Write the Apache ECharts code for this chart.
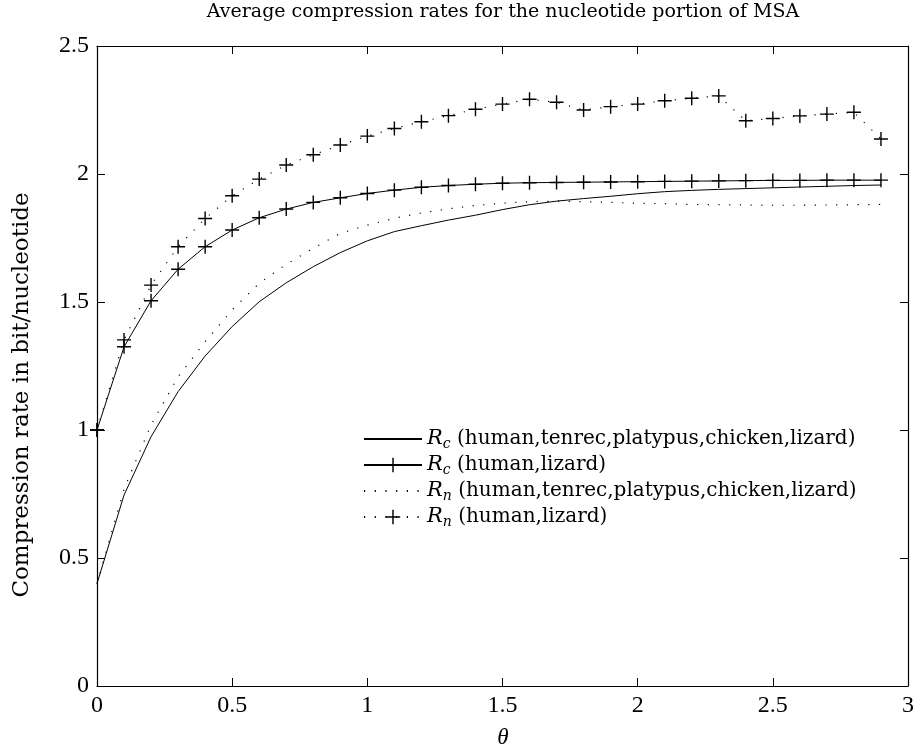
<!DOCTYPE html>
<html>
<head>
<meta charset="utf-8">
<title>Average compression rates</title>
<script src="https://cdn.jsdelivr.net/npm/echarts@6/dist/echarts.min.js"></script>
<style>
  html, body { margin: 0; padding: 0; background: #fff; }
  #chart { width: 917px; height: 753px; }
</style>
</head>
<body>
<div id="chart"></div>
<script>
// theta values (x axis)
const thetaValues = [0, 0.1, 0.2, 0.3, 0.4, 0.5, 0.6, 0.7, 0.8, 0.9,
                     1.0, 1.1, 1.2, 1.3, 1.4, 1.5, 1.6, 1.7, 1.8, 1.9,
                     2.0, 2.1, 2.2, 2.3, 2.4, 2.5, 2.6, 2.7, 2.8, 2.9];

// Rc, 5 species (solid)
const rcAll = [0.40, 0.746, 0.974, 1.15, 1.289, 1.404, 1.501, 1.575, 1.638, 1.693,
               1.739, 1.775, 1.798, 1.82, 1.839, 1.861, 1.880, 1.894, 1.904, 1.913,
               1.923, 1.931, 1.936, 1.940, 1.943, 1.946, 1.949, 1.952, 1.955, 1.957];
// Rc, human + lizard (solid with +)
const rcPair = [1.00, 1.325, 1.505, 1.628, 1.716, 1.781, 1.829, 1.863, 1.889, 1.907,
                1.924, 1.937, 1.948, 1.955, 1.960, 1.964, 1.966, 1.967, 1.968, 1.969,
                1.970, 1.971, 1.972, 1.973, 1.974, 1.975, 1.975, 1.976, 1.976, 1.976];
// Rn, 5 species (dotted)
const rnAll = [0.40, 0.77, 1.02, 1.208, 1.345, 1.469, 1.573, 1.647, 1.71, 1.768,
               1.80, 1.827, 1.848, 1.864, 1.877, 1.886, 1.892, 1.894, 1.892, 1.889,
               1.886, 1.884, 1.881, 1.880, 1.879, 1.878, 1.878, 1.879, 1.880, 1.881];
// Rn, human + lizard (dotted with +)
const rnPair = [1.00, 1.352, 1.566, 1.716, 1.826, 1.915, 1.98, 2.035, 2.075, 2.113,
                2.148, 2.178, 2.204, 2.228, 2.253, 2.273, 2.292, 2.28, 2.25, 2.263,
                2.273, 2.286, 2.296, 2.305, 2.208, 2.217, 2.227, 2.234, 2.241, 2.137];

const seriesNames = [
  'R_c (human,tenrec,platypus,chicken,lizard)',
  'R_c (human,lizard)',
  'R_n (human,tenrec,platypus,chicken,lizard)',
  'R_n (human,lizard)'
];

const SERIF = '"Liberation Serif", serif';
const WIDE = '"DejaVu Serif", "Liberation Serif", serif';
const PLUS = 'path://M4.5,0H5.5V4.5H10V5.5H5.5V10H4.5V5.5H0V4.5H4.5Z';
const DOTS = [1.2, 9.5];

const chart = echarts.init(document.getElementById('chart'));

const pairs = arr => thetaValues.map((t, i) => [t, arr[i]]);

function lineSeries(name, values, dotted, marker) {
  return {
    name: name,
    type: 'line',
    data: pairs(values),
    symbol: marker ? PLUS : 'none',
    symbolSize: 14,
    showAllSymbol: true,
    itemStyle: { color: '#000' },
    lineStyle: { color: '#000', width: dotted ? 1.2 : 1, type: dotted ? DOTS : 'solid' },
    emphasis: { disabled: true },
    z: marker ? 3 : 2
  };
}

const axisCommon = {
  type: 'value',
  axisLine: { show: true, onZero: false, lineStyle: { color: '#000', width: 1.2 } },
  axisTick: { show: true, inside: true, length: 8, lineStyle: { color: '#000', width: 1 } },
  splitLine: { show: false }
};

chart.setOption({
  animation: false,
  backgroundColor: '#fff',
  textStyle: { fontFamily: SERIF, color: '#000' },
  grid: { left: 97, right: 8, top: 46, bottom: 67 },
  xAxis: [
    Object.assign({}, axisCommon, {
      position: 'bottom', min: 0, max: 3, interval: 0.5,
      axisLabel: { color: '#000', fontFamily: SERIF, fontSize: 24, margin: 8 }
    }),
    Object.assign({}, axisCommon, {
      position: 'top', min: 0, max: 3, interval: 0.5,
      axisLabel: { show: false }
    })
  ],
  yAxis: [
    Object.assign({}, axisCommon, {
      position: 'left', min: 0, max: 2.5, interval: 0.5,
      axisLabel: { color: '#000', fontFamily: SERIF, fontSize: 24, margin: 8 }
    }),
    Object.assign({}, axisCommon, {
      position: 'right', min: 0, max: 2.5, interval: 0.5,
      axisLabel: { show: false }
    })
  ],
  legend: {
    orient: 'vertical',
    left: 363,
    top: 427,
    padding: 0,
    itemWidth: 58,
    itemHeight: 18,
    itemGap: 2,
    selectedMode: false,
    data: [
      { name: seriesNames[0], itemStyle: { opacity: 0 } },
      { name: seriesNames[1] },
      { name: seriesNames[2], itemStyle: { opacity: 0 } },
      { name: seriesNames[3] }
    ],
    formatter: name => {
      const sub = name.charAt(2);
      return '{i|R}{s|' + sub + '}' + name.slice(3);
    },
    textStyle: {
      fontFamily: WIDE, fontSize: 20, color: '#000', lineHeight: 24,
      rich: {
        i: { fontFamily: WIDE, fontSize: 21, fontStyle: 'italic', color: '#000', lineHeight: 24 },
        s: { fontFamily: WIDE, fontSize: 14, fontStyle: 'italic', color: '#000', lineHeight: 12, verticalAlign: 'bottom' }
      }
    }
  },
  graphic: [
    {
      type: 'text', x: 503, y: 12,
      style: {
        text: 'Average compression rates for the nucleotide portion of MSA',
        font: '19px ' + WIDE, fill: '#000', align: 'center', verticalAlign: 'middle'
      }
    },
    {
      type: 'text', x: 22, y: 395, rotation: Math.PI / 2,
      style: {
        text: 'Compression rate in bit/nucleotide',
        font: '23px ' + WIDE, fill: '#000', align: 'center', verticalAlign: 'middle'
      }
    },
    {
      type: 'text', x: 503, y: 738,
      style: {
        text: 'θ', font: 'italic 23px ' + SERIF, fill: '#000', align: 'center', verticalAlign: 'middle'
      }
    }
  ],
  series: [
    lineSeries(seriesNames[0], rcAll, false, false),
    lineSeries(seriesNames[1], rcPair, false, true),
    lineSeries(seriesNames[2], rnAll, true, false),
    lineSeries(seriesNames[3], rnPair, true, true)
  ]
});
</script>
</body>
</html>
